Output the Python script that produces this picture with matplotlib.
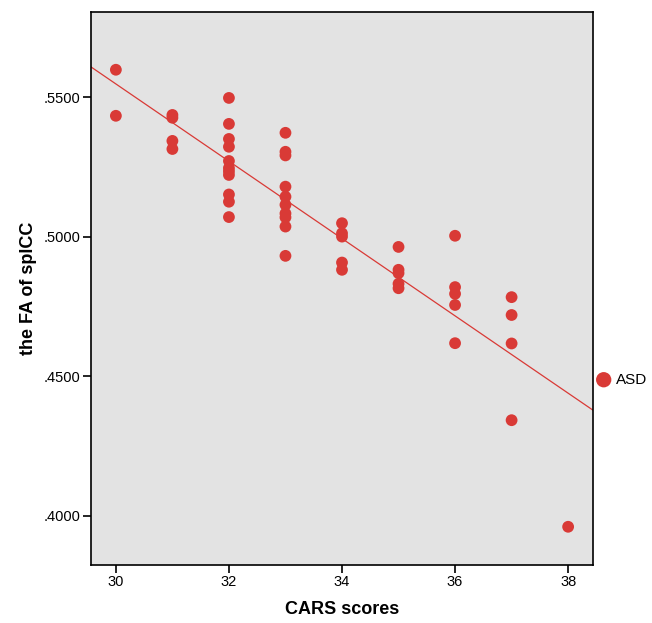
import numpy as np
import matplotlib.pyplot as plt
from matplotlib.ticker import FuncFormatter

plt.rcParams['font.family'] = ['Liberation Sans', 'DejaVu Sans']

# CARS scores and FA of splCC
cars_scores = [30, 30,
               31, 31, 31, 31,
               32, 32, 32, 32, 32, 32, 32, 32, 32, 32, 32,
               33, 33, 33, 33, 33, 33, 33, 33, 33, 33,
               34, 34, 34, 34, 34,
               35, 35, 35, 35, 35,
               36, 36, 36, 36, 36,
               37, 37, 37, 37,
               38]
fa_values = [0.5599, 0.5434,
             0.5437, 0.5427, 0.5344, 0.5315,
             0.5498, 0.5405, 0.5351, 0.5323, 0.5272, 0.5247, 0.5235, 0.5222, 0.5152, 0.5126, 0.5071,
             0.5373, 0.5305, 0.5292, 0.5180, 0.5144, 0.5115, 0.5084, 0.5070, 0.5037, 0.4932,
             0.5049, 0.5013, 0.5001, 0.4908, 0.4882,
             0.4964, 0.4882, 0.4870, 0.4832, 0.4816,
             0.5004, 0.4820, 0.4796, 0.4756, 0.4619,
             0.4784, 0.4720, 0.4618, 0.4343,
             0.3961]
group_name = "ASD"
y_ticks = [0.40, 0.45, 0.50, 0.55]
x_ticks = [30, 32, 34, 36, 38]

red = '#d93a36'

fig = plt.figure(figsize=(6.52, 6.23), dpi=100)
ax = fig.add_axes([91 / 652, 58 / 623, 502 / 652, 553 / 623])
ax.set_facecolor('#e3e3e3')

x = np.array(cars_scores, dtype=float)
y = np.array(fa_values)
ax.scatter(x, y, s=72, color=red, edgecolors='none', zorder=3, label=group_name)

# least squares fit line across the whole axis
slope, intercept = np.polyfit(x, y, 1)
xlim = (29.56, 38.44)
xs = np.array(xlim)
ax.plot(xs, slope * xs + intercept, color=red, linewidth=0.9, zorder=2)

ax.set_xlim(*xlim)
ax.set_ylim(0.3824, 0.5806)
ax.set_xticks(x_ticks)
ax.set_yticks(y_ticks)
ax.yaxis.set_major_formatter(FuncFormatter(lambda v, p: f"{v:.4f}".lstrip('0')))
ax.tick_params(direction='out', length=5.5, width=1.2, labelsize=10.5, colors='black', pad=2)

for sp in ax.spines.values():
    sp.set_linewidth(1.2)

ax.set_xlabel("CARS scores", fontsize=13, fontweight='bold', labelpad=8)
ax.set_ylabel("the FA of splCC", fontsize=13, fontweight='bold', labelpad=5)

leg = ax.legend(loc='center left', bbox_to_anchor=(1.0, 0.335), frameon=False,
                fontsize=11, handletextpad=0.3, handlelength=1.0, borderaxespad=0.0,
                borderpad=0.2, markerscale=1.3)

fig.savefig('out.png', dpi=100)
